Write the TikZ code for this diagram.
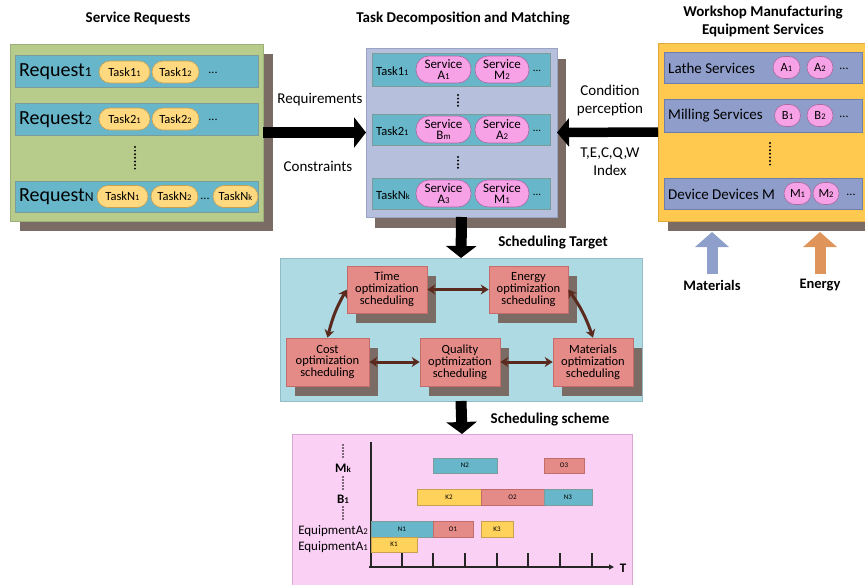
\documentclass[tikz,border=0pt]{standalone}
\usepackage{fontspec}
\setmainfont{Carlito}
\usepackage{graphicx}
\usetikzlibrary{arrows.meta,shadows}
\definecolor{greenp}{HTML}{B7CC8A}
\definecolor{greenb}{HTML}{9CB07C}
\definecolor{shadowc}{HTML}{7B6B65}
\definecolor{tealr}{HTML}{67B6CA}
\definecolor{tealb}{HTML}{7C9C9A}
\definecolor{yelp}{HTML}{FFD97F}
\definecolor{yelb}{HTML}{C9A050}
\definecolor{lavp}{HTML}{B6BFDB}
\definecolor{lavb}{HTML}{9AA3C5}
\definecolor{pinkp}{HTML}{F7A1E6}
\definecolor{pinkb}{HTML}{A86AA0}
\definecolor{orgp}{HTML}{FFC94F}
\definecolor{orgb}{HTML}{E0A83A}
\definecolor{bgrow}{HTML}{8E9DC9}
\definecolor{bgrowb}{HTML}{6F7FAA}
\definecolor{lblue}{HTML}{AEDAE4}
\definecolor{lblueb}{HTML}{93BCC6}
\definecolor{redb}{HTML}{E48A87}
\definecolor{redbd}{HTML}{C46C69}
\definecolor{brownar}{HTML}{5A2A1E}
\definecolor{pinkbox}{HTML}{FBD0F5}
\definecolor{pinkboxb}{HTML}{D8A8D0}
\definecolor{ganttyel}{HTML}{FFD25C}
\definecolor{matc}{HTML}{8F9FCB}
\definecolor{enec}{HTML}{DF945A}
\newcommand\lo[1]{\scalebox{0.68}{#1}}
\newcommand\fsz[2]{\fontsize{#1}{#2}\selectfont}
\begin{document}
\begin{tikzpicture}[x=1pt,y=-1pt,
  panel/.style={inner sep=0pt, outer sep=0pt},
  shad/.style={drop shadow={shadow xshift=10pt, shadow yshift=-10pt, fill=shadowc, opacity=1}},
  rowbox/.style={draw=tealb, fill=tealr, line width=0.6pt, inner sep=0pt, minimum height=32pt},
  brow/.style={draw=bgrowb, fill=bgrow, line width=0.6pt, inner sep=0pt, minimum height=32pt},
  ypill/.style={draw=yelb, fill=yelp, line width=0.6pt, rounded corners=11pt, minimum height=22pt, inner sep=0pt, font=\fsz{12.5}{12.5}},
  ppill/.style={draw=pinkb, fill=pinkp, line width=0.6pt, rounded corners=13pt, minimum height=27pt, inner sep=0pt, align=center, font=\fsz{13}{11.5}},
  cpill/.style={draw=pinkb, fill=pinkp, line width=0.6pt, rounded corners=11pt, minimum height=22pt, minimum width=26pt, inner sep=0pt, font=\fsz{12.5}{12.5}},
  ttl/.style={font=\bfseries\fsz{15}{18}, align=center},
  lbl/.style={font=\fsz{15}{18}, align=center},
  dotsv/.style={line width=2.2pt, dash pattern=on 0pt off 3.6pt, line cap=round},
  bigar/.style={line width=11pt, -{Triangle[length=12pt,width=30pt]}},
  optb/.style={draw=redbd, fill=redb, line width=0.6pt, minimum width=80pt, minimum height=47pt, inner sep=0pt, align=center, font=\fsz{12.5}{11.8},
     drop shadow={shadow xshift=9pt, shadow yshift=-10pt, fill=shadowc, opacity=1}},
  brar/.style={draw=brownar, line width=3pt, {Stealth[length=8pt,width=10pt]}-{Stealth[length=8pt,width=10pt]}},
  gb/.style={line width=0.6pt, inner sep=0pt, font=\fsz{7}{7}},
  gteal/.style={gb, draw=tealb, fill=tealr},
  gred/.style={gb, draw=redbd, fill=redb},
  gyel/.style={gb, draw=yelb, fill=ganttyel}
]
\useasboundingbox (0,0) rectangle (865,584);

% ---------- Left panel: Service Requests ----------
\node[ttl] (t1) at (138,18) {Service Requests};
\node[panel, shad, draw=greenb, fill=greenp, line width=0.6pt, minimum width=253pt, minimum height=177pt] (reqp) at (136.5,132.5) {};
\node[rowbox, minimum width=243pt] (r1) at (136.5,71) {};
\node[rowbox, minimum width=243pt] (r2) at (136.5,119) {};
\node[rowbox, minimum width=243pt, minimum height=31pt] (rn) at (136.5,196.5) {};
\node[anchor=west, inner sep=0pt, font=\fsz{20}{20}] (q1) at (19,72) {Request\lo{1}};
\node[anchor=west, inner sep=0pt, font=\fsz{20}{20}] (q2) at (19,120) {Request\lo{2}};
\node[anchor=west, inner sep=0pt, font=\fsz{20}{20}] (qn) at (19,197) {Request\lo{N}};
\node[ypill, minimum width=51pt] (p11) at (124.5,72) {Task1\lo{1}};
\node[ypill, minimum width=47pt] (p12) at (175.5,72) {Task1\lo{2}};
\node[font=\fsz{12}{12}] (e1) at (213,73) {...};
\node[ypill, minimum width=51pt] (p21) at (124.5,119) {Task2\lo{1}};
\node[ypill, minimum width=47pt] (p22) at (175.5,119) {Task2\lo{2}};
\node[font=\fsz{12}{12}] (e2) at (213,120) {...};
\node[ypill, minimum width=51pt] (pn1) at (122.5,196.5) {TaskN\lo{1}};
\node[ypill, minimum width=47pt] (pn2) at (174.5,196.5) {TaskN\lo{2}};
\node[font=\fsz{12}{12}, inner sep=0pt] (en) at (205,199) {...};
\node[ypill, minimum width=45pt] (pnk) at (235.5,196.5) {TaskN\lo{k}};
\draw[dotsv] (135,147) -- (135,171);

% ---------- Middle panel: Task Decomposition ----------
\node[ttl] (t2) at (463,18) {Task Decomposition and Matching};
\node[panel, drop shadow={shadow xshift=9pt, shadow yshift=-11pt, fill=shadowc, opacity=1}, draw=lavb, fill=lavp, line width=0.6pt, minimum width=191pt, minimum height=169pt] (taskp) at (461.5,132.5) {};
\node[rowbox, minimum width=178pt, minimum height=33pt] (m1) at (461,69.5) {};
\node[rowbox, minimum width=178pt, minimum height=31pt] (m2) at (461,129.5) {};
\node[rowbox, minimum width=178pt, minimum height=31pt] (m3) at (461,193.5) {};
\node[anchor=west, inner sep=0pt, font=\fsz{12.5}{12.5}] (mt1) at (376,71) {Task1\lo{1}};
\node[anchor=west, inner sep=0pt, font=\fsz{12.5}{12.5}] (mt2) at (376,131) {Task2\lo{1}};
\node[anchor=west, inner sep=0pt, font=\fsz{12.5}{12.5}] (mt3) at (376,195) {TaskN\lo{k}};
\node[ppill, minimum width=55pt] (s11) at (443.5,69.5) {Service\\A\lo{1}};
\node[ppill, minimum width=54pt] (s12) at (502,69.5) {Service\\M\lo{2}};
\node[font=\fsz{11}{11}] (me1) at (537,71) {...};
\node[ppill, minimum width=55pt] (s21) at (443.5,129.5) {Service\\B\lo{m}};
\node[ppill, minimum width=54pt] (s22) at (502,129.5) {Service\\A\lo{2}};
\node[font=\fsz{11}{11}] (me2) at (537,131) {...};
\node[ppill, minimum width=55pt] (s31) at (443.5,193.5) {Service\\A\lo{3}};
\node[ppill, minimum width=54pt] (s32) at (502,193.5) {Service\\M\lo{1}};
\node[font=\fsz{11}{11}] (me3) at (537,195) {...};
\draw[dotsv] (458,95) -- (458,108);
\draw[dotsv] (458,157) -- (458,170);

% ---------- Right panel: Workshop Equipment ----------
\node[ttl] (t3) at (763,21) {Workshop Manufacturing\\Equipment Services};
\node[panel, shad, draw=orgb, fill=orgp, line width=0.6pt, minimum width=212pt, minimum height=178pt] (equp) at (764,132) {};
\node[brow, minimum width=198pt, minimum height=31pt] (w1) at (763,67.5) {};
\node[brow, minimum width=198pt, minimum height=33pt] (w2) at (763,115.5) {};
\node[brow, minimum width=198pt, minimum height=31pt] (w3) at (763,193.5) {};
\node[anchor=west, inner sep=0pt, font=\fsz{15}{15}] (wl1) at (668,68) {Lathe Services};
\node[anchor=west, inner sep=0pt, font=\fsz{15}{15}] (wl2) at (668,116) {Milling Services};
\node[anchor=west, inner sep=0pt, font=\fsz{15}{15}] (wl3) at (668,194) {Device Devices M};
\node[cpill, minimum width=27pt] (a1) at (786.5,67.5) {A\lo{1}};
\node[cpill] (a2) at (820,67.5) {A\lo{2}};
\node[font=\fsz{12}{12}] (we1) at (844,69) {...};
\node[cpill] (b1) at (787.5,115.5) {B\lo{1}};
\node[cpill] (b2) at (820,115.5) {B\lo{2}};
\node[font=\fsz{12}{12}] (we2) at (844,117) {...};
\node[cpill, minimum width=27pt] (c1) at (797.5,193.5) {M\lo{1}};
\node[cpill] (c2) at (826,193.5) {M\lo{2}};
\node[font=\fsz{12}{12}] (we3) at (851,195) {...};
\draw[dotsv] (770,143) -- (770,167);

% ---------- Big arrows and labels ----------
\draw[bigar] (reqp.east) -- (taskp.west);
\draw[bigar, line width=9.5pt, -{Triangle[length=12pt,width=28pt]}] (equp.west) -- (taskp.east);
\node[lbl] (lreq) at (320,100) {Requirements};
\node[lbl] (lcon) at (318,166) {Constraints};
\node[lbl, font=\fsz{15}{18}] (lcond) at (610,100) {Condition\\perception};
\node[lbl, font=\fsz{15}{18}] (lidx) at (610,162) {T,E,C,Q,W\\Index};

\coordinate (matb) at (712,274);
\coordinate (matt) at (712,232);
\coordinate (eneb) at (820,274);
\coordinate (enet) at (820,232);
\draw[matc, line width=11pt, -{Triangle[length=15pt,width=33pt]}] (matb) -- (matt);
\draw[enec, line width=11pt, -{Triangle[length=15pt,width=33pt]}] (eneb) -- (enet);
\node[ttl, font=\bfseries\fsz{14.5}{16}] (lmat) at (712,285) {Materials};
\node[ttl, font=\bfseries\fsz{14.5}{16}] (lene) at (820,285) {Energy};

% ---------- Scheduling Target ----------
\node[panel, draw=lblueb, fill=lblue, line width=0.8pt, minimum width=362pt, minimum height=143pt] (target) at (461,329.5) {};
\draw[bigar] (taskp.south) -- (target.north);
\node[ttl] (lst) at (553,243) {Scheduling Target};
\node[optb] (time) at (387,289.5) {Time\\optimization\\scheduling};
\node[optb, minimum width=79pt] (energy) at (528.5,289.5) {Energy\\optimization\\scheduling};
\node[optb, minimum width=83pt, minimum height=48pt] (cost) at (327.5,362) {Cost\\optimization\\scheduling};
\node[optb, minimum height=48pt] (quality) at (460,362) {Quality\\optimization\\scheduling};
\node[optb, minimum height=48pt] (materials) at (593,362) {Materials\\optimization\\scheduling};
\draw[brar] (time.east) -- (energy.west);
\draw[brar] (cost.north) to[bend left=8] (time.west);
\draw[brar] (energy.east) to[bend left=8] (materials.north);
\draw[brar] (cost.east) -- (quality.west);
\draw[brar] (quality.east) -- (materials.west);

% ---------- Scheduling scheme (Gantt) ----------
\node[panel, draw=pinkboxb, fill=pinkbox, line width=0.8pt, minimum width=340pt, minimum height=164pt] (gantt) at (462,516) {};
\draw[bigar] (target.south) -- (gantt.north);
\node[ttl] (lss) at (550,420) {Scheduling scheme};

\coordinate (ax0) at (371,567);
\coordinate (axtop) at (371,442);
\coordinate (axend) at (614,567);
\draw[line width=1.4pt, black!85] (axtop) -- (371,568);
\draw[line width=1.4pt, black!85, -{Triangle[length=5pt,width=5pt]}] (369,567) -- (axend);
\node[font=\bfseries\fsz{13}{13}, inner sep=0pt] (lT) at (623,568) {T};
\foreach \tx in {402,433,465,497,528,560,592}
  \draw[line width=1.4pt, black!85] (\tx,553) -- (\tx,567);

\node[gteal, minimum width=64pt, minimum height=15pt] (n2) at (465,465.5) {N2};
\node[gred, minimum width=40pt, minimum height=15pt] (o3) at (564,465.5) {O3};
\node[gyel, minimum width=64pt, minimum height=16pt] (k2) at (449,497) {K2};
\node[gred, minimum width=63pt, minimum height=16pt] (o2) at (512.5,497) {O2};
\node[gteal, minimum width=48pt, minimum height=16pt] (n3) at (568,497) {N3};
\node[gteal, minimum width=62pt, minimum height=16pt] (n1) at (402,529) {N1};
\node[gred, minimum width=40pt, minimum height=16pt] (o1) at (453,529) {O1};
\node[gyel, minimum width=32pt, minimum height=16pt] (k3) at (497,529) {K3};
\node[gyel, minimum width=46pt, minimum height=15pt] (k1) at (394,544.5) {K1};

\draw[dotsv, line width=1.8pt, dash pattern=on 0pt off 3pt] (343,445) -- (343,458);
\draw[dotsv, line width=1.8pt, dash pattern=on 0pt off 3pt] (343,477) -- (343,489);
\draw[dotsv, line width=1.8pt, dash pattern=on 0pt off 3pt] (343,507) -- (343,520);
\node[font=\bfseries\fsz{13}{13}, inner sep=0pt] (lmk) at (343,468) {M\lo{k}};
\node[font=\bfseries\fsz{13}{13}, inner sep=0pt] (lb1) at (343,499) {B\lo{1}};
\node[anchor=east, font=\fsz{13}{13}, inner sep=0pt] (lea2) at (368,531) {EquipmentA\lo{2}};
\node[anchor=east, font=\fsz{13}{13}, inner sep=0pt] (lea1) at (368,547) {EquipmentA\lo{1}};
\end{tikzpicture}
\end{document}
